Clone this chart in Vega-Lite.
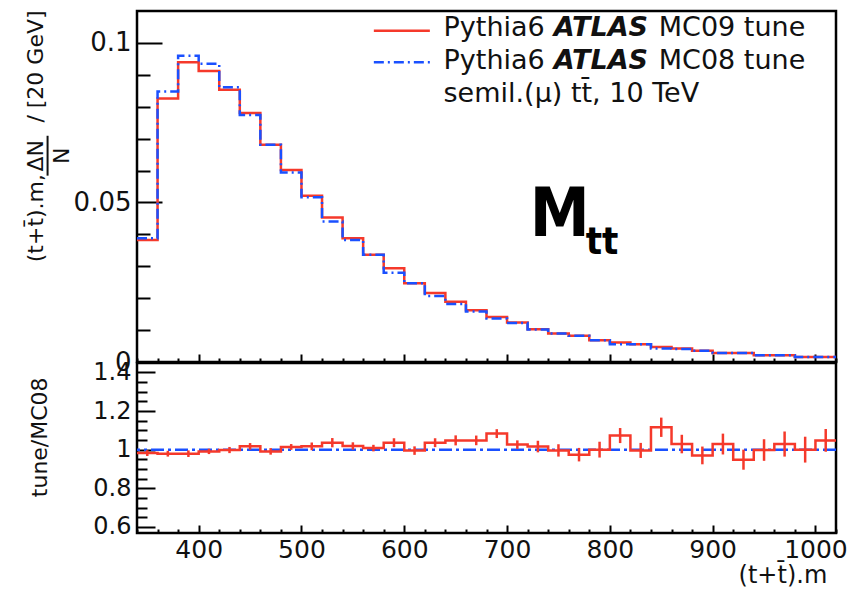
{
  "$schema": "https://vega.github.io/schema/vega-lite/v6.json",
  "autosize": {"type": "pad"},
  "padding": {"left": 23, "top": 9, "right": 15, "bottom": 0},
  "bounds": "flush",
  "spacing": 1,
  "background": "white",
  "config": {
    "view": {"stroke": "#000", "strokeWidth": 2.5},
    "axis": {"domain": false, "grid": false, "labelFont": "DejaVu Sans", "labelColor": "#111", "tickColor": "#000", "tickWidth": 2, "title": null}
  },
  "datasets": {
    "one": [{}],
    "hist": [
      {"series": "MC09", "lo": 340, "hi": 360, "value": 0.0382},
      {"series": "MC09", "lo": 360, "hi": 380, "value": 0.0826},
      {"series": "MC09", "lo": 380, "hi": 400, "value": 0.0939},
      {"series": "MC09", "lo": 400, "hi": 420, "value": 0.0912},
      {"series": "MC09", "lo": 420, "hi": 440, "value": 0.0853},
      {"series": "MC09", "lo": 440, "hi": 460, "value": 0.0780},
      {"series": "MC09", "lo": 460, "hi": 480, "value": 0.0681},
      {"series": "MC09", "lo": 480, "hi": 500, "value": 0.0602},
      {"series": "MC09", "lo": 500, "hi": 520, "value": 0.0521},
      {"series": "MC09", "lo": 520, "hi": 540, "value": 0.0453},
      {"series": "MC09", "lo": 540, "hi": 560, "value": 0.0388},
      {"series": "MC09", "lo": 560, "hi": 580, "value": 0.0336},
      {"series": "MC09", "lo": 580, "hi": 600, "value": 0.0294},
      {"series": "MC09", "lo": 600, "hi": 620, "value": 0.0247},
      {"series": "MC09", "lo": 620, "hi": 640, "value": 0.0216},
      {"series": "MC09", "lo": 640, "hi": 660, "value": 0.0189},
      {"series": "MC09", "lo": 660, "hi": 680, "value": 0.0162},
      {"series": "MC09", "lo": 680, "hi": 700, "value": 0.0141},
      {"series": "MC09", "lo": 700, "hi": 720, "value": 0.0124},
      {"series": "MC09", "lo": 720, "hi": 740, "value": 0.0103},
      {"series": "MC09", "lo": 740, "hi": 760, "value": 0.0089},
      {"series": "MC09", "lo": 760, "hi": 780, "value": 0.0082},
      {"series": "MC09", "lo": 780, "hi": 800, "value": 0.0068},
      {"series": "MC09", "lo": 800, "hi": 820, "value": 0.0061},
      {"series": "MC09", "lo": 820, "hi": 840, "value": 0.0056},
      {"series": "MC09", "lo": 840, "hi": 860, "value": 0.0047},
      {"series": "MC09", "lo": 860, "hi": 880, "value": 0.0042},
      {"series": "MC09", "lo": 880, "hi": 900, "value": 0.0035},
      {"series": "MC09", "lo": 900, "hi": 920, "value": 0.0028},
      {"series": "MC09", "lo": 920, "hi": 940, "value": 0.0028},
      {"series": "MC09", "lo": 940, "hi": 960, "value": 0.0021},
      {"series": "MC09", "lo": 960, "hi": 980, "value": 0.0021},
      {"series": "MC09", "lo": 980, "hi": 1000, "value": 0.0016},
      {"series": "MC09", "lo": 1000, "hi": 1020, "value": 0.0016},
      {"series": "MC08", "lo": 340, "hi": 360, "value": 0.0388},
      {"series": "MC08", "lo": 360, "hi": 380, "value": 0.0848},
      {"series": "MC08", "lo": 380, "hi": 400, "value": 0.0960},
      {"series": "MC08", "lo": 400, "hi": 420, "value": 0.0935},
      {"series": "MC08", "lo": 420, "hi": 440, "value": 0.0861},
      {"series": "MC08", "lo": 440, "hi": 460, "value": 0.0774},
      {"series": "MC08", "lo": 460, "hi": 480, "value": 0.0681},
      {"series": "MC08", "lo": 480, "hi": 500, "value": 0.0594},
      {"series": "MC08", "lo": 500, "hi": 520, "value": 0.0516},
      {"series": "MC08", "lo": 520, "hi": 540, "value": 0.0440},
      {"series": "MC08", "lo": 540, "hi": 560, "value": 0.0382},
      {"series": "MC08", "lo": 560, "hi": 580, "value": 0.0336},
      {"series": "MC08", "lo": 580, "hi": 600, "value": 0.0280},
      {"series": "MC08", "lo": 600, "hi": 620, "value": 0.0247},
      {"series": "MC08", "lo": 620, "hi": 640, "value": 0.0207},
      {"series": "MC08", "lo": 640, "hi": 660, "value": 0.0182},
      {"series": "MC08", "lo": 660, "hi": 680, "value": 0.0158},
      {"series": "MC08", "lo": 680, "hi": 700, "value": 0.0136},
      {"series": "MC08", "lo": 700, "hi": 720, "value": 0.0122},
      {"series": "MC08", "lo": 720, "hi": 740, "value": 0.0102},
      {"series": "MC08", "lo": 740, "hi": 760, "value": 0.0089},
      {"series": "MC08", "lo": 760, "hi": 780, "value": 0.0082},
      {"series": "MC08", "lo": 780, "hi": 800, "value": 0.0068},
      {"series": "MC08", "lo": 800, "hi": 820, "value": 0.0056},
      {"series": "MC08", "lo": 820, "hi": 840, "value": 0.0056},
      {"series": "MC08", "lo": 840, "hi": 860, "value": 0.0042},
      {"series": "MC08", "lo": 860, "hi": 880, "value": 0.0041},
      {"series": "MC08", "lo": 880, "hi": 900, "value": 0.0035},
      {"series": "MC08", "lo": 900, "hi": 920, "value": 0.0028},
      {"series": "MC08", "lo": 920, "hi": 940, "value": 0.0028},
      {"series": "MC08", "lo": 940, "hi": 960, "value": 0.0021},
      {"series": "MC08", "lo": 960, "hi": 980, "value": 0.0021},
      {"series": "MC08", "lo": 980, "hi": 1000, "value": 0.0016},
      {"series": "MC08", "lo": 1000, "hi": 1020, "value": 0.0016}
    ],
    "ratio": [
      {"lo": 340, "hi": 360, "mid": 350, "ratio": 0.982, "err": 0.015},
      {"lo": 360, "hi": 380, "mid": 370, "ratio": 0.979, "err": 0.015},
      {"lo": 380, "hi": 400, "mid": 390, "ratio": 0.979, "err": 0.017},
      {"lo": 400, "hi": 420, "mid": 410, "ratio": 0.991, "err": 0.014},
      {"lo": 420, "hi": 440, "mid": 430, "ratio": 0.998, "err": 0.016},
      {"lo": 440, "hi": 460, "mid": 450, "ratio": 1.017, "err": 0.017},
      {"lo": 460, "hi": 480, "mid": 470, "ratio": 0.991, "err": 0.017},
      {"lo": 480, "hi": 500, "mid": 490, "ratio": 1.014, "err": 0.015},
      {"lo": 500, "hi": 520, "mid": 510, "ratio": 1.017, "err": 0.020},
      {"lo": 520, "hi": 540, "mid": 530, "ratio": 1.036, "err": 0.024},
      {"lo": 540, "hi": 560, "mid": 550, "ratio": 1.019, "err": 0.019},
      {"lo": 560, "hi": 580, "mid": 570, "ratio": 1.008, "err": 0.017},
      {"lo": 580, "hi": 600, "mid": 590, "ratio": 1.036, "err": 0.023},
      {"lo": 600, "hi": 620, "mid": 610, "ratio": 0.995, "err": 0.022},
      {"lo": 620, "hi": 640, "mid": 630, "ratio": 1.036, "err": 0.023},
      {"lo": 640, "hi": 660, "mid": 650, "ratio": 1.048, "err": 0.026},
      {"lo": 660, "hi": 680, "mid": 670, "ratio": 1.048, "err": 0.025},
      {"lo": 680, "hi": 700, "mid": 690, "ratio": 1.083, "err": 0.023},
      {"lo": 700, "hi": 720, "mid": 710, "ratio": 1.026, "err": 0.022},
      {"lo": 720, "hi": 740, "mid": 730, "ratio": 1.016, "err": 0.030},
      {"lo": 740, "hi": 760, "mid": 750, "ratio": 0.996, "err": 0.032},
      {"lo": 760, "hi": 780, "mid": 770, "ratio": 0.974, "err": 0.035},
      {"lo": 780, "hi": 800, "mid": 790, "ratio": 1.000, "err": 0.041},
      {"lo": 800, "hi": 820, "mid": 810, "ratio": 1.073, "err": 0.039},
      {"lo": 820, "hi": 840, "mid": 830, "ratio": 0.996, "err": 0.039},
      {"lo": 840, "hi": 860, "mid": 850, "ratio": 1.116, "err": 0.050},
      {"lo": 860, "hi": 880, "mid": 870, "ratio": 1.029, "err": 0.048},
      {"lo": 880, "hi": 900, "mid": 890, "ratio": 0.970, "err": 0.046},
      {"lo": 900, "hi": 920, "mid": 910, "ratio": 1.029, "err": 0.054},
      {"lo": 920, "hi": 940, "mid": 930, "ratio": 0.948, "err": 0.052},
      {"lo": 940, "hi": 960, "mid": 950, "ratio": 0.998, "err": 0.056},
      {"lo": 960, "hi": 980, "mid": 970, "ratio": 1.029, "err": 0.065},
      {"lo": 980, "hi": 1000, "mid": 990, "ratio": 1.000, "err": 0.067},
      {"lo": 1000, "hi": 1020, "mid": 1010, "ratio": 1.048, "err": 0.059}
    ]
  },
  "vconcat": [
    {
      "width": 699,
      "height": 351,
      "resolve": {"axis": {"x": "independent", "y": "independent"}},
      "layer": [
        {
          "data": {"name": "hist"},
          "transform": [{"filter": "datum.series === 'MC09'"}, {"fold": ["lo", "hi"], "as": ["side", "edge"]}],
          "mark": {"type": "line", "color": "#f5392b", "strokeWidth": 2.5},
          "encoding": {
            "x": {"field": "edge", "type": "quantitative",
              "scale": {"domain": [340, 1020], "nice": false, "zero": false},
              "axis": {"orient": "bottom", "labels": false, "values": [400, 500, 600, 700, 800, 900, 1000], "tickSize": -8}},
            "y": {"field": "value", "type": "quantitative",
              "scale": {"domain": [0, 0.11], "nice": false, "zero": false},
              "axis": {"orient": "left", "format": "~g", "labelFontSize": 26, "labelOverlap": false, "values": [0, 0.05, 0.1], "labelPadding": 31, "tickSize": -25}},
            "order": [{"field": "edge", "type": "quantitative"}, {"field": "side", "type": "nominal"}]
          }
        },
        {
          "data": {"name": "hist"},
          "transform": [{"filter": "datum.series === 'MC08'"}, {"fold": ["lo", "hi"], "as": ["side", "edge"]}],
          "mark": {"type": "line", "color": "#1a50ff", "strokeWidth": 2.5, "strokeDash": [10, 4, 2, 4]},
          "encoding": {
            "x": {"field": "edge", "type": "quantitative",
              "axis": {"orient": "bottom", "labels": false, "tickSize": -4,
                "values": [340,360,380,420,440,460,480,520,540,560,580,620,640,660,680,720,740,760,780,820,840,860,880,920,940,960,980,1020]}},
            "y": {"field": "value", "type": "quantitative",
              "axis": {"orient": "left", "labels": false, "tickSize": -13, "values": [0.01, 0.02, 0.03, 0.04, 0.06, 0.07, 0.08, 0.09]}},
            "order": [{"field": "edge", "type": "quantitative"}, {"field": "side", "type": "nominal"}]
          }
        },
        {
          "data": {"name": "one"},
          "mark": {"type": "rule", "color": "#f5392b", "strokeWidth": 2.5},
          "encoding": {"x": {"datum": 570.4, "axis": null}, "x2": {"datum": 624.9}, "y": {"datum": 0.1038, "axis": null}}
        },
        {
          "data": {"name": "one"},
          "mark": {"type": "rule", "color": "#1a50ff", "strokeWidth": 2.5, "strokeDash": [10, 4, 2, 4]},
          "encoding": {"x": {"datum": 570.4, "axis": null}, "x2": {"datum": 624.9}, "y": {"datum": 0.0939, "axis": null}}
        },
        {
          "data": {"name": "one"},
          "mark": {"type": "text", "text": "Pythia6", "align": "left", "baseline": "alphabetic", "font": "DejaVu Sans", "fontSize": 27, "color": "#111"},
          "encoding": {"x": {"datum": 638.2, "axis": null}, "y": {"datum": 0.1023, "axis": null}}
        },
        {
          "data": {"name": "one"},
          "mark": {"type": "text", "text": "ATLAS", "align": "left", "baseline": "alphabetic", "font": "DejaVu Sans", "fontSize": 27, "fontWeight": "bold", "fontStyle": "italic", "color": "#111"},
          "encoding": {"x": {"datum": 745.4, "axis": null}, "y": {"datum": 0.1023, "axis": null}}
        },
        {
          "data": {"name": "one"},
          "mark": {"type": "text", "text": "MC09 tune", "align": "left", "baseline": "alphabetic", "font": "DejaVu Sans", "fontSize": 27, "color": "#111"},
          "encoding": {"x": {"datum": 847.6, "axis": null}, "y": {"datum": 0.1023, "axis": null}}
        },
        {
          "data": {"name": "one"},
          "mark": {"type": "text", "text": "Pythia6", "align": "left", "baseline": "alphabetic", "font": "DejaVu Sans", "fontSize": 27, "color": "#111"},
          "encoding": {"x": {"datum": 638.2, "axis": null}, "y": {"datum": 0.0918, "axis": null}}
        },
        {
          "data": {"name": "one"},
          "mark": {"type": "text", "text": "ATLAS", "align": "left", "baseline": "alphabetic", "font": "DejaVu Sans", "fontSize": 27, "fontWeight": "bold", "fontStyle": "italic", "color": "#111"},
          "encoding": {"x": {"datum": 745.4, "axis": null}, "y": {"datum": 0.0918, "axis": null}}
        },
        {
          "data": {"name": "one"},
          "mark": {"type": "text", "text": "MC08 tune", "align": "left", "baseline": "alphabetic", "font": "DejaVu Sans", "fontSize": 27, "color": "#111"},
          "encoding": {"x": {"datum": 847.6, "axis": null}, "y": {"datum": 0.0918, "axis": null}}
        },
        {
          "data": {"name": "one"},
          "mark": {"type": "text", "text": "semil.(μ) tt̄, 10 TeV", "align": "left", "baseline": "alphabetic", "font": "DejaVu Sans", "fontSize": 27, "color": "#111"},
          "encoding": {"x": {"datum": 638.2, "axis": null}, "y": {"datum": 0.0814, "axis": null}}
        },
        {
          "data": {"name": "one"},
          "mark": {"type": "text", "text": "M", "align": "left", "baseline": "alphabetic", "font": "DejaVu Sans Condensed", "fontSize": 67, "fontWeight": "bold", "color": "#000"},
          "encoding": {"x": {"datum": 722, "axis": null}, "y": {"datum": 0.0396, "axis": null}}
        },
        {
          "data": {"name": "one"},
          "mark": {"type": "text", "text": "tt", "align": "left", "baseline": "alphabetic", "font": "DejaVu Sans Condensed", "fontSize": 38, "fontWeight": "bold", "color": "#000"},
          "encoding": {"x": {"datum": 776.5, "axis": null}, "y": {"datum": 0.0339, "axis": null}}
        },
        {
          "data": {"name": "one"},
          "mark": {"type": "text", "text": "(t+t̄).m,", "angle": 270, "align": "center", "baseline": "middle", "font": "DejaVu Sans", "fontSize": 22, "color": "#111"},
          "encoding": {"x": {"datum": 241.7, "axis": null}, "y": {"datum": 0.0451, "axis": null}}
        },
        {
          "data": {"name": "one"},
          "mark": {"type": "text", "text": "ΔN", "angle": 270, "align": "center", "baseline": "middle", "font": "DejaVu Sans", "fontSize": 22, "color": "#111"},
          "encoding": {"x": {"datum": 241.7, "axis": null}, "y": {"datum": 0.0646, "axis": null}}
        },
        {
          "data": {"name": "one"},
          "mark": {"type": "text", "text": "N", "angle": 270, "align": "center", "baseline": "middle", "font": "DejaVu Sans", "fontSize": 22, "color": "#111"},
          "encoding": {"x": {"datum": 266.6, "axis": null}, "y": {"datum": 0.0646, "axis": null}}
        },
        {
          "data": {"name": "one"},
          "mark": {"type": "rule", "color": "#111", "strokeWidth": 2},
          "encoding": {"x": {"datum": 253, "axis": null}, "y": {"datum": 0.0584, "axis": null}, "y2": {"datum": 0.0709}}
        },
        {
          "data": {"name": "one"},
          "mark": {"type": "text", "text": "/ [20 GeV]", "angle": 270, "align": "center", "baseline": "middle", "font": "DejaVu Sans", "fontSize": 22, "color": "#111"},
          "encoding": {"x": {"datum": 241.3, "axis": null}, "y": {"datum": 0.0926, "axis": null}}
        }
      ]
    },
    {
      "width": 699,
      "height": 170,
      "resolve": {"axis": {"x": "independent", "y": "independent"}},
      "layer": [
        {
          "data": {"name": "ratio"},
          "transform": [{"fold": ["lo", "hi"], "as": ["side", "edge"]}],
          "mark": {"type": "line", "color": "#f5392b", "strokeWidth": 2.5, "opacity": 0},
          "encoding": {
            "x": {"field": "edge", "type": "quantitative",
              "scale": {"domain": [340, 1020], "nice": false, "zero": false},
              "axis": {"orient": "bottom", "format": "d", "labelFontSize": 25, "labelOverlap": false, "labelFlush": false,
                "values": [400, 500, 600, 700, 800, 900, 1000], "labelPadding": 12, "tickSize": -8}},
            "y": {"field": "ratio", "type": "quantitative",
              "scale": {"domain": [0.568, 1.449], "nice": false, "zero": false},
              "axis": {"orient": "left", "format": "~g", "labelFontSize": 24, "labelOverlap": false,
                "values": [0.6, 0.8, 1, 1.2, 1.4], "labelPadding": 24, "tickSize": -18}}
          }
        },
        {
          "data": {"name": "ratio"},
          "transform": [{"fold": ["lo", "hi"], "as": ["side", "edge"]}],
          "mark": {"type": "line", "color": "#f5392b", "strokeWidth": 2.5, "opacity": 0},
          "encoding": {
            "x": {"field": "edge", "type": "quantitative",
              "axis": {"orient": "bottom", "labels": false, "tickSize": -4,
                "values": [340,360,380,420,440,460,480,520,540,560,580,620,640,660,680,720,740,760,780,820,840,860,880,920,940,960,980,1020]}},
            "y": {"field": "ratio", "type": "quantitative",
              "axis": {"orient": "left", "labels": false, "tickSize": -10,
                "values": [0.65, 0.7, 0.75, 0.85, 0.9, 0.95, 1.05, 1.1, 1.15, 1.25, 1.3, 1.35, 1.45]}}
          }
        },
        {
          "data": {"name": "one"},
          "mark": {"type": "rule", "color": "#1a50ff", "strokeWidth": 2.5, "strokeDash": [13, 4, 3, 4]},
          "encoding": {"y": {"datum": 1, "axis": null}}
        },
        {
          "data": {"name": "ratio"},
          "transform": [{"fold": ["lo", "hi"], "as": ["side", "edge"]}],
          "mark": {"type": "line", "color": "#f5392b", "strokeWidth": 2.5},
          "encoding": {
            "x": {"field": "edge", "type": "quantitative", "axis": null},
            "y": {"field": "ratio", "type": "quantitative", "axis": null},
            "order": [{"field": "edge", "type": "quantitative"}, {"field": "side", "type": "nominal"}]
          }
        },
        {
          "data": {"name": "ratio"},
          "mark": {"type": "errorbar", "color": "#f5392b", "thickness": 2.5},
          "encoding": {
            "x": {"field": "mid", "type": "quantitative", "axis": null},
            "y": {"field": "ratio", "type": "quantitative", "axis": null},
            "yError": {"field": "err"}
          }
        },
        {
          "data": {"name": "one"},
          "mark": {"type": "text", "text": "tune/MC08", "angle": 270, "align": "center", "baseline": "middle", "font": "DejaVu Sans", "fontSize": 22, "color": "#111"},
          "encoding": {"x": {"datum": 245.2, "axis": null}, "y": {"datum": 1.064, "axis": null}}
        },
        {
          "data": {"name": "one"},
          "mark": {"type": "text", "text": "(t+t̄).m", "align": "right", "baseline": "middle", "font": "DejaVu Sans", "fontSize": 24, "color": "#111"},
          "encoding": {"x": {"datum": 1011.5, "axis": null}, "y": {"datum": 0.345, "axis": null}}
        }
      ]
    }
  ]
}
